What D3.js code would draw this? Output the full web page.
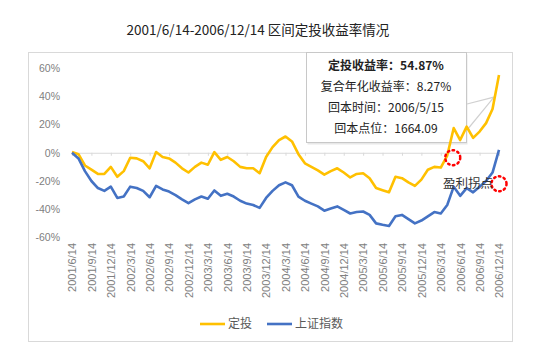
<!DOCTYPE html>
<html>
<head>
<meta charset="utf-8">
<script src="https://cdn.jsdelivr.net/npm/d3@7"></script>
<style>
  body { margin: 0; background: #fff; }
  svg { display: block; }
</style>
</head>
<body>
<svg width="550" height="361"></svg>
<script>
// monthly points, 2001/6/14 .. 2006/12/14
const months = d3.timeMonth.range(new Date(2001, 5, 1), new Date(2007, 0, 1)).map(d3.timeFormat('%Y/%-m/14'));

const tickLabels = [
  '2001/6/14', '2001/9/14', '2001/12/14', '2002/3/14', '2002/6/14', '2002/9/14',
  '2002/12/14', '2003/3/14', '2003/6/14', '2003/9/14', '2003/12/14', '2004/3/14',
  '2004/6/14', '2004/9/14', '2004/12/14', '2005/3/14', '2005/6/14', '2005/9/14',
  '2005/12/14', '2006/3/14', '2006/6/14', '2006/9/14', '2006/12/14',
];

// 定投 return, %
const dingtou = [
  0.5, -1, -9, -12, -15, -15, -10, -17, -13, -3.5,
  -4, -6, -11, 0.5, -3, -4, -7, -11, -14, -10,
  -7, -8.5, 0.5, -5, -3, -6, -10, -11, -11, -14.5,
  -3, 4, 9, 11.5, 8, -1, -7.5, -10, -12.5, -15.5,
  -13, -11, -14, -17.5, -15, -14.5, -18, -25, -26.5, -28,
  -17, -18, -21, -23.5, -19, -12, -10, -10.5, -2, 17.5,
  9, 18.5, 10.5, 15, 21, 31, 55,
];

// 上证指数 change, %
const szIndex = [
  0, -4, -13, -20, -25, -27, -24, -32, -31, -24,
  -25, -27, -31.5, -23.5, -26, -27.5, -30, -33, -35.7, -33,
  -31, -32.6, -26.7, -30.5, -29, -31, -34, -36, -37, -39,
  -32, -27, -23, -21, -23, -31, -34, -36, -38, -41,
  -39.5, -38, -40.5, -43, -42, -41.6, -44, -50, -51, -51.8,
  -45, -44, -47, -50, -48, -45, -42, -43, -37, -24,
  -30.5, -25, -28, -24, -20, -14, 2,
];

const yTicks = [60, 40, 20, 0, -20, -40, -60];
const seriesNames = ['定投', '上证指数'];
const colors = ['#ffc000', '#4472c4'];

const calloutLines = ['定投收益率：54.87%', '复合年化收益率：8.27%', '回本时间：2006/5/15', '回本点位：1664.09'];
const markerNote = '盈利拐点';
const breakEvenMonth = '2006/5/14';

const svg = d3.select('svg');
const cjk = '"Noto Sans CJK SC", sans-serif';
const latin = '"Liberation Sans", Arial, sans-serif';

const x = d3.scalePoint().domain(months).range([72, 499]);
const y = d3.scaleLinear().domain([-60, 60]).range([237.5, 68]);

// outer frame
svg.append('rect')
  .attr('x', 28.5).attr('y', 52.5)
  .attr('width', 484).attr('height', 289)
  .style('fill', '#fff')
  .style('stroke', '#d9d9d9');

svg.append('text')
  .attr('x', 258).attr('y', 35)
  .attr('text-anchor', 'middle')
  .style('font-family', cjk)
  .style('font-size', '13.5px')
  .style('fill', '#222')
  .text('2001/6/14-2006/12/14 区间定投收益率情况');

// y axis labels
const yAxis = svg.append('g')
  .attr('transform', 'translate(63,0)')
  .call(d3.axisLeft(y).tickValues(yTicks).tickSize(0).tickPadding(3).tickFormat(d => `${d}%`));
yAxis.select('.domain').remove();
yAxis.selectAll('text')
  .style('font-family', latin)
  .style('font-size', '10.5px')
  .style('fill', '#808080');

// zero line with tick marks
const zeroAxis = svg.append('g')
  .attr('transform', `translate(0,${y(0)})`)
  .call(d3.axisBottom(x).tickValues(tickLabels).tickSize(3).tickFormat(''));
zeroAxis.select('.domain').style('stroke', '#d9d9d9');
zeroAxis.selectAll('.tick line').style('stroke', '#d9d9d9');

// date labels at the bottom
const xAxis = svg.append('g')
  .attr('transform', 'translate(0,240)')
  .call(d3.axisBottom(x).tickValues(tickLabels).tickSize(0));
xAxis.select('.domain').remove();
xAxis.selectAll('text')
  .attr('transform', 'rotate(-90)')
  .attr('x', -3).attr('y', 0).attr('dy', '0.35em')
  .attr('text-anchor', 'end')
  .style('font-family', latin)
  .style('font-size', '11px')
  .style('fill', '#808080');

// callout box (drawn under the lines)
const last = months.length - 1;
const tipX = x(months[last]) - 5;
const tipY = y(dingtou[last]) + 22;
svg.append('rect')
  .attr('x', 307.5).attr('y', 54.5)
  .attr('width', 160).attr('height', 90)
  .style('fill', '#e8e8e8');
svg.append('rect')
  .attr('x', 306.5).attr('y', 52.5)
  .attr('width', 160).attr('height', 90)
  .style('fill', '#fff')
  .style('stroke', '#c8c8c8');
svg.selectAll('text.callout')
  .data(calloutLines)
  .enter()
  .append('text')
  .attr('class', 'callout')
  .attr('x', 386)
  .attr('y', (d, i) => 69.5 + i * 21.2)
  .attr('text-anchor', 'middle')
  .style('font-family', cjk)
  .style('font-size', '12px')
  .style('font-weight', (d, i) => (i === 0 ? 'bold' : 'normal'))
  .style('fill', '#222')
  .text(d => d);
svg.append('path')
  .attr('d', `M467,104L${tipX},${tipY}L467,130`)
  .style('fill', 'none')
  .style('stroke', '#d0d0d0')
  .style('stroke-width', '1.2px');

const line = d3.line()
  .x((d, i) => x(months[i]))
  .y(d => y(d));

[dingtou, szIndex].forEach((values, si) => {
  svg.append('path')
    .datum(values)
    .attr('d', line)
    .style('fill', 'none')
    .style('stroke', colors[si])
    .style('stroke-width', '2.6px')
    .style('stroke-linejoin', 'round');
});

// break-even markers
const circles = [
  [x(breakEvenMonth) - 1, y(-3.5)],
  [x(months[last]), y(-22)],
];
svg.selectAll('circle.mark')
  .data(circles)
  .enter()
  .append('circle')
  .attr('class', 'mark')
  .attr('cx', d => d[0])
  .attr('cy', d => d[1])
  .attr('r', 7.5)
  .style('fill', 'none')
  .style('stroke', '#ff0000')
  .style('stroke-width', '2.5px')
  .style('stroke-dasharray', '1.5,3.5')
  .style('stroke-linecap', 'round');

svg.append('text')
  .attr('x', 443).attr('y', 187.5)
  .style('font-family', cjk)
  .style('font-size', '12.5px')
  .style('fill', '#333')
  .text(markerNote);

// legend
const legend = svg.append('g').attr('transform', 'translate(200,324)');
const legendX = [0, 67];
seriesNames.forEach((name, i) => {
  legend.append('line')
    .attr('x1', legendX[i]).attr('x2', legendX[i] + 25)
    .attr('y1', 0).attr('y2', 0)
    .style('stroke', colors[i])
    .style('stroke-width', '2.6px');
  legend.append('text')
    .attr('x', legendX[i] + 28).attr('y', 0)
    .attr('dy', '0.35em')
    .style('font-family', cjk)
    .style('font-size', '12px')
    .style('fill', '#595959')
    .text(name);
});
</script>
</body>
</html>
